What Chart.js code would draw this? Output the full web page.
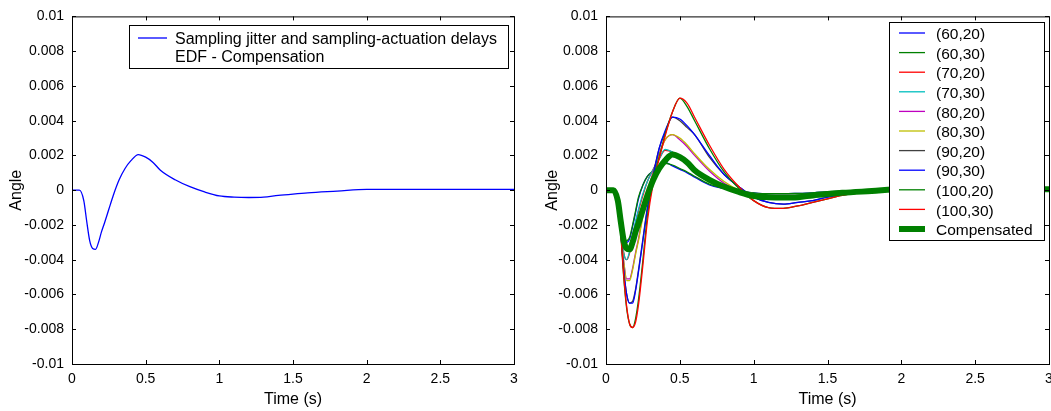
<!DOCTYPE html>
<html>
<head>
<meta charset="utf-8">
<script src="https://cdn.jsdelivr.net/npm/chart.js@4"></script>
<style>
    html, body { margin: 0; padding: 0; background: #fff; overflow: hidden; }
    #graficoIzq { position: absolute; left: 0; top: 0; }
    #graficoDer { position: absolute; left: 530px; top: 0; }
</style>
</head>
<body>
<canvas id="graficoIzq" width="530" height="411"></canvas>
<canvas id="graficoDer" width="540" height="411"></canvas>
<script>
// Instantes de muestreo (s)
const tiempo = [0, 0.05, 0.08, 0.1, 0.12, 0.14, 0.16, 0.18, 0.2, 0.22, 0.25, 0.28, 0.32, 0.36, 0.4, 0.45, 0.5, 0.55, 0.6, 0.7, 0.8, 0.9, 1.0, 1.1, 1.2, 1.3, 1.4, 1.5, 1.6, 1.8, 2.0, 2.5, 3.0];

// Respuesta con compensación (EDF)
const compensado = [0, 0, -0.0006, -0.0018, -0.0029, -0.00335, -0.0034, -0.0030, -0.0024, -0.0019, -0.0011, -0.0003, 0.0006, 0.00125, 0.0017, 0.00205, 0.0019, 0.0016, 0.00115, 0.0006, 0.0002, -0.0001, -0.00033, -0.0004, -0.00042, -0.0004, -0.0003, -0.00022, -0.00015, -0.00005, 0.00005, 0.00005, 0.00005];

// Respuestas sin compensar para cada par (periodo, retardo)
const y6020 = [0, 0, -0.0004, -0.0018, -0.0028, -0.0030, -0.0028, -0.0021, -0.0013, -0.0005, 0.0003, 0.0008, 0.0011, 0.0014, 0.0016, 0.0014, 0.0012, 0.0010, 0.00075, 0.0003, 0.0001, -0.00005, -0.00015, -0.0002, -0.0002, -0.00018, -0.00015, -0.0001, -0.00005, 0, 0, 0, 0];
const y6030 = [0, 0, -0.0004, -0.0017, -0.0027, -0.0029, -0.0027, -0.0020, -0.0012, -0.0004, 0.0003, 0.0008, 0.0011, 0.0014, 0.00155, 0.00145, 0.00125, 0.00105, 0.0008, 0.00035, 0.0001, -0.00005, -0.00015, -0.0002, -0.0002, -0.00018, -0.00015, -0.0001, -0.00005, 0, 0, 0, 0];
const y7020 = [0, 0, -0.0004, -0.0022, -0.0036, -0.0040, -0.0036, -0.0027, -0.0019, -0.0012, -0.0003, 0.0005, 0.0012, 0.0018, 0.0023, 0.0022, 0.0019, 0.0016, 0.0012, 0.0006, 0.0002, 0.0, -0.0002, -0.0003, -0.0003, -0.00028, -0.00022, -0.00015, -0.0001, -0.00003, 0, 0, 0];
const y7030 = [0, 0, -0.0004, -0.0022, -0.0036, -0.0040, -0.0035, -0.0026, -0.0018, -0.0011, -0.0002, 0.0005, 0.0012, 0.0018, 0.00235, 0.0022, 0.0019, 0.0016, 0.0012, 0.0006, 0.0002, 0.0, -0.0002, -0.0003, -0.0003, -0.00028, -0.00022, -0.00015, -0.0001, -0.00003, 0, 0, 0];
const y8020 = [0, 0, -0.0004, -0.0023, -0.0041, -0.0051, -0.0051, -0.0045, -0.0036, -0.0028, -0.0014, -0.0002, 0.0011, 0.0021, 0.0029, 0.0032, 0.0029, 0.0025, 0.0020, 0.0011, 0.0004, 0.0, -0.0003, -0.0005, -0.0005, -0.00045, -0.00035, -0.00025, -0.00015, -0.00005, 0, 0, 0];
const y8030 = [0, 0, -0.0004, -0.0023, -0.0041, -0.0052, -0.0052, -0.0046, -0.0037, -0.0029, -0.0015, -0.0003, 0.0010, 0.0020, 0.0029, 0.0032, 0.0030, 0.0026, 0.0021, 0.0012, 0.0005, 0.0, -0.0003, -0.0005, -0.0005, -0.00045, -0.00035, -0.00025, -0.00015, -0.00005, 0, 0, 0];
const y9020 = [0, 0, -0.0004, -0.0024, -0.0046, -0.0060, -0.0065, -0.0064, -0.0057, -0.0046, -0.0028, -0.0010, 0.0009, 0.0024, 0.0033, 0.0042, 0.0040, 0.0036, 0.0032, 0.0019, 0.0009, 0.0002, -0.0004, -0.0007, -0.0008, -0.0007, -0.0006, -0.0004, -0.00025, -0.00008, 0, 0, 0];
const y9030 = [0, 0, -0.0004, -0.0024, -0.0046, -0.0060, -0.0065, -0.0065, -0.0058, -0.0047, -0.0029, -0.0011, 0.0008, 0.0024, 0.0034, 0.0042, 0.0041, 0.0037, 0.0032, 0.0020, 0.0009, 0.0002, -0.0004, -0.0007, -0.0008, -0.0007, -0.0006, -0.0004, -0.00025, -0.00008, 0, 0, 0];
const y10020 = [0, 0, -0.0004, -0.0025, -0.0050, -0.0068, -0.0077, -0.0079, -0.0074, -0.0063, -0.0040, -0.0015, 0.0006, 0.0019, 0.0032, 0.0045, 0.0053, 0.0048, 0.0040, 0.0024, 0.00105, 0.0001, -0.0006, -0.0010, -0.00105, -0.0009, -0.0007, -0.0005, -0.0003, -0.0001, 0, 0, 0];
const y10030 = [0, 0, -0.0004, -0.0024, -0.0049, -0.0067, -0.0077, -0.0079, -0.0076, -0.0066, -0.0043, -0.0018, 0.0004, 0.0018, 0.0031, 0.0045, 0.0053, 0.0050, 0.0042, 0.0026, 0.0012, 0.0002, -0.0006, -0.0010, -0.00105, -0.0009, -0.0007, -0.0005, -0.0003, -0.0001, 0, 0, 0];

const casos = ['(60,20)', '(60,30)', '(70,20)', '(70,30)', '(80,20)', '(80,30)', '(90,20)', '(90,30)', '(100,20)', '(100,30)'];
const series = [y6020, y6030, y7020, y7030, y8020, y8030, y9020, y9030, y10020, y10030];

// Orden de colores por defecto de MATLAB
const colores = ['#0000ff', '#008000', '#ff0000', '#00bfbf', '#bf00bf', '#bfbf00', '#404040', '#0000ff', '#008000', '#ff0000'];

const fuente = '"Liberation Sans", Arial, sans-serif';

function puntos(serie) {
    return tiempo.map((t, i) => ({ x: t, y: serie[i] }));
}

// Marco de los ejes con marcas hacia dentro en los cuatro lados
const marcoEjes = {
    id: 'marcoEjes',
    afterDatasetsDraw(chart) {
        const { ctx, chartArea: a, scales } = chart;
        const largo = 4;
        ctx.save();
        ctx.strokeStyle = '#000';
        ctx.lineWidth = 1;
        ctx.strokeRect(a.left + 0.5, a.top + 0.5, a.right - a.left, a.bottom - a.top);
        ctx.beginPath();
        scales.x.ticks.forEach(tk => {
            const px = Math.round(scales.x.getPixelForValue(tk.value)) + 0.5;
            ctx.moveTo(px, a.bottom); ctx.lineTo(px, a.bottom - largo);
            ctx.moveTo(px, a.top); ctx.lineTo(px, a.top + largo);
        });
        scales.y.ticks.forEach(tk => {
            const py = Math.round(scales.y.getPixelForValue(tk.value)) + 0.5;
            ctx.moveTo(a.left, py); ctx.lineTo(a.left + largo, py);
            ctx.moveTo(a.right, py); ctx.lineTo(a.right - largo, py);
        });
        ctx.stroke();
        ctx.restore();
    }
};

// Leyenda con recuadro dentro del área del gráfico
const leyendaCaja = {
    id: 'leyendaCaja',
    afterDraw(chart, args, op) {
        const ctx = chart.ctx;
        ctx.save();
        ctx.fillStyle = '#fff';
        ctx.fillRect(op.x, op.y, op.w, op.h);
        ctx.strokeStyle = '#000';
        ctx.lineWidth = 1;
        ctx.strokeRect(op.x + 0.5, op.y + 0.5, op.w, op.h);
        ctx.font = op.fuente;
        ctx.textBaseline = 'middle';
        let fila = 0;
        chart.data.datasets.forEach(ds => {
            const y = op.y + op.primera + fila * op.alto;
            ctx.strokeStyle = ds.borderColor;
            ctx.lineWidth = ds.borderWidth;
            ctx.beginPath();
            ctx.moveTo(op.x + op.m0, y + op.dyLinea);
            ctx.lineTo(op.x + op.m1, y + op.dyLinea);
            ctx.stroke();
            ctx.fillStyle = '#000';
            ds.label.split('\n').forEach(linea => {
                ctx.fillText(linea, op.x + op.texto, op.y + op.primera + fila * op.alto);
                fila++;
            });
        });
        ctx.restore();
    }
};

function ejes(anchoY, padTitulo) {
    return {
        x: {
            type: 'linear', min: 0, max: 3,
            grid: { display: false, drawTicks: false },
            border: { display: false },
            ticks: {
                stepSize: 0.5, padding: 7, maxRotation: 0, autoSkip: false, color: '#000',
                font: { family: fuente, size: 14 },
                callback: v => String(+v.toFixed(2))
            },
            title: {
                display: true, text: 'Time (s)', color: '#000',
                font: { family: fuente, size: 16 }, padding: { top: 0, bottom: 2 }
            },
            afterFit: s => { s.height = 47; }
        },
        y: {
            type: 'linear', min: -0.01, max: 0.01,
            grid: { display: false, drawTicks: false },
            border: { display: false },
            ticks: {
                stepSize: 0.002, padding: 8, color: '#000',
                font: { family: fuente, size: 14 },
                callback: v => String(+v.toFixed(3))
            },
            title: {
                display: true, text: 'Angle', color: '#000',
                font: { family: fuente, size: 16 }, padding: { top: padTitulo, bottom: 0 }
            },
            afterFit: s => { s.width = anchoY; }
        }
    };
}

const lineaBase = { pointRadius: 0, fill: false, cubicInterpolationMode: 'monotone', borderJoinStyle: 'round' };

// Gráfico izquierdo: respuesta compensada
new Chart(document.getElementById('graficoIzq'), {
    type: 'line',
    data: {
        datasets: [{
            ...lineaBase,
            label: 'Sampling jitter and sampling-actuation delays\nEDF - Compensation',
            data: puntos(compensado),
            borderColor: '#0000ff',
            borderWidth: 1.3
        }]
    },
    options: {
        responsive: false, animation: false, devicePixelRatio: 1,
        layout: { padding: { top: 16, right: 16, left: 0, bottom: 0 } },
        scales: ejes(72, 7),
        plugins: {
            legend: { display: false },
            tooltip: { enabled: false },
            leyendaCaja: { x: 129, y: 25, w: 379, h: 43, m0: 9, m1: 38, texto: 46, primera: 15, alto: 18, dyLinea: -2, fuente: '16px ' + fuente }
        }
    },
    plugins: [marcoEjes, leyendaCaja]
});

// Gráfico derecho: todos los casos y la respuesta compensada
const conjuntos = casos.map((c, i) => ({
    ...lineaBase,
    label: c,
    data: puntos(series[i]),
    borderColor: colores[i],
    borderWidth: 1.3,
    order: casos.length - i
}));
conjuntos.push({
    ...lineaBase,
    label: 'Compensated',
    data: puntos(compensado),
    borderColor: '#008000',
    borderWidth: 6,
    order: 0
});

new Chart(document.getElementById('graficoDer'), {
    type: 'line',
    data: { datasets: conjuntos },
    options: {
        responsive: false, animation: false, devicePixelRatio: 1,
        layout: { padding: { top: 16, right: 21, left: 0, bottom: 0 } },
        scales: ejes(76, 13),
        plugins: {
            legend: { display: false },
            tooltip: { enabled: false },
            leyendaCaja: { x: 359, y: 22, w: 155, h: 218, m0: 10, m1: 36, texto: 47, primera: 13, alto: 19.6, dyLinea: -2, fuente: '15.5px ' + fuente }
        }
    },
    plugins: [marcoEjes, leyendaCaja]
});
</script>
</body>
</html>
